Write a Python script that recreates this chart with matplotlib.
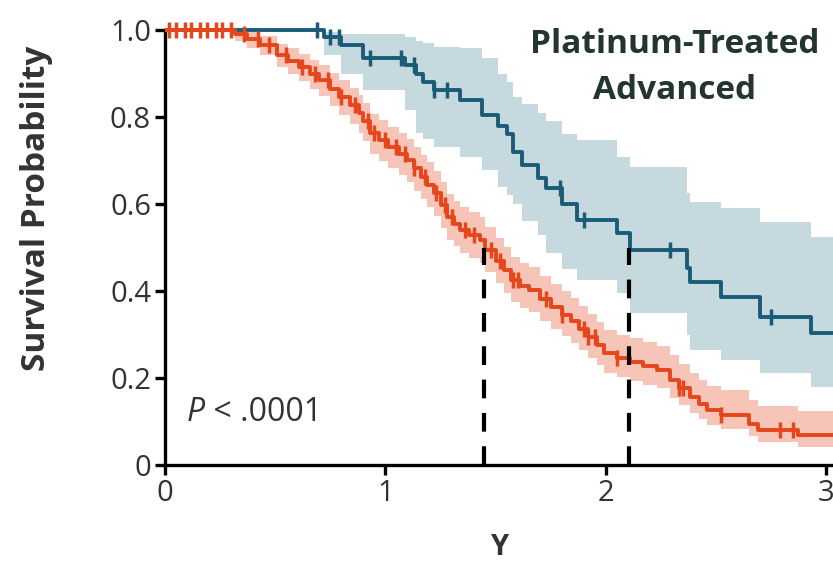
import matplotlib
matplotlib.use("Agg")
import matplotlib.pyplot as plt
import numpy as np

# Kaplan-Meier steps: time, survival, lower / upper CI
blue_t = [0.00, 0.72, 0.80, 0.90, 1.09, 1.14, 1.17, 1.22, 1.34, 1.44, 1.51, 1.55, 1.58, 1.62,
          1.69, 1.73, 1.80, 1.87, 2.05, 2.11, 2.37, 2.38, 2.52, 2.70, 2.93]
blue_s = [1.000, 0.985, 0.965, 0.936, 0.920, 0.900, 0.880, 0.862, 0.840, 0.805, 0.780, 0.760,
          0.720, 0.690, 0.660, 0.637, 0.600, 0.563, 0.533, 0.494, 0.453, 0.420, 0.386, 0.340, 0.303]
blue_lo = [1.000, 0.943, 0.900, 0.862, 0.816, 0.763, 0.750, 0.731, 0.708, 0.678, 0.640, 0.620,
           0.600, 0.560, 0.530, 0.487, 0.450, 0.425, 0.395, 0.349, 0.300, 0.264, 0.241, 0.211, 0.179]
blue_hi = [1.000, 0.995, 0.990, 0.990, 0.985, 0.975, 0.970, 0.962, 0.958, 0.935, 0.900, 0.880,
           0.846, 0.830, 0.810, 0.790, 0.760, 0.747, 0.708, 0.685, 0.625, 0.605, 0.590, 0.559, 0.524]
blue_cens = [0.69, 0.75, 0.79, 0.93, 1.07, 1.13, 1.22, 1.28, 1.79, 1.90, 2.29, 2.75]

red_t = [0.00, 0.32, 0.37, 0.43, 0.51, 0.56, 0.61, 0.66, 0.70, 0.75, 0.79, 0.84, 0.88, 0.90,
         0.93, 0.97, 1.01, 1.06, 1.10, 1.13, 1.16, 1.19, 1.22, 1.25, 1.28, 1.31, 1.34, 1.38,
         1.43, 1.45, 1.50, 1.54, 1.57, 1.61, 1.65, 1.70, 1.75, 1.80, 1.84, 1.88, 1.92, 1.96,
         1.99, 2.05, 2.11, 2.17, 2.23, 2.29, 2.33, 2.38, 2.42, 2.46, 2.52, 2.65, 2.69, 2.87]
red_s = [1.000, 0.990, 0.980, 0.965, 0.943, 0.930, 0.915, 0.900, 0.885, 0.865, 0.846, 0.828,
         0.809, 0.790, 0.763, 0.748, 0.731, 0.716, 0.701, 0.682, 0.662, 0.645, 0.625, 0.598,
         0.570, 0.555, 0.540, 0.528, 0.517, 0.495, 0.470, 0.448, 0.425, 0.412, 0.402, 0.382,
         0.363, 0.346, 0.330, 0.312, 0.294, 0.275, 0.257, 0.246, 0.237, 0.228, 0.218, 0.195,
         0.176, 0.156, 0.140, 0.126, 0.115, 0.095, 0.080, 0.069]
red_lo = [1.000, 0.975, 0.960, 0.942, 0.916, 0.900, 0.883, 0.865, 0.848, 0.826, 0.805, 0.785,
          0.764, 0.744, 0.716, 0.700, 0.683, 0.667, 0.651, 0.631, 0.611, 0.593, 0.573, 0.546,
          0.518, 0.503, 0.488, 0.476, 0.465, 0.443, 0.418, 0.396, 0.374, 0.361, 0.351, 0.332,
          0.313, 0.297, 0.281, 0.264, 0.247, 0.229, 0.212, 0.202, 0.194, 0.185, 0.176, 0.155,
          0.138, 0.119, 0.105, 0.093, 0.083, 0.066, 0.053, 0.041]
red_hi = [1.000, 1.000, 0.996, 0.986, 0.968, 0.958, 0.945, 0.932, 0.920, 0.902, 0.885, 0.868,
          0.851, 0.833, 0.808, 0.794, 0.778, 0.764, 0.750, 0.732, 0.713, 0.696, 0.677, 0.650,
          0.623, 0.608, 0.593, 0.581, 0.570, 0.548, 0.523, 0.501, 0.478, 0.465, 0.455, 0.435,
          0.416, 0.399, 0.383, 0.365, 0.347, 0.328, 0.310, 0.300, 0.292, 0.283, 0.274, 0.252,
          0.232, 0.212, 0.196, 0.182, 0.172, 0.150, 0.135, 0.124]
red_cens = [0.02, 0.05, 0.09, 0.12, 0.16, 0.19, 0.23, 0.26, 0.30, 0.36, 0.42, 0.47, 0.55, 0.62,
            0.68, 0.74, 0.80, 0.86, 0.92, 0.95, 1.00, 1.05, 1.09, 1.13, 1.18, 1.23, 1.27, 1.30,
            1.36, 1.40, 1.48, 1.52, 1.58, 1.60, 1.73, 1.80, 1.90, 1.92, 1.95, 2.05, 2.33, 2.35,
            2.52, 2.79, 2.85]

end_time = 3.05
median_times = [1.445, 2.105]
median_level = 0.5

RED, RED_BAND = "#e5461c", "#f7c4b8"
BLUE, BLUE_BAND = "#1a5c78", "#c5d9df"
TEXT = "#333333"

plt.rcParams['font.family'] = ['Open Sans', 'DejaVu Sans']

fig = plt.figure(figsize=(8.33, 5.62), dpi=100)
ax = fig.add_axes([0.198, 0.1726, 0.802, 0.797])


def km(t, s, lo, hi, cens, color, band):
    t = np.append(t, end_time)
    s = np.append(s, s[-1])
    lo = np.append(lo, lo[-1])
    hi = np.append(hi, hi[-1])
    ax.fill_between(t, lo, hi, step='post', color=band, lw=0, zorder=1)
    ax.step(t, s, where='post', color=color, lw=2.8, zorder=3)
    idx = np.searchsorted(t, cens, side='right') - 1
    ax.plot(cens, s[idx], ls='none', marker='|', ms=12, mew=2.5, color=color, zorder=4,
            clip_on=False)


km(blue_t, blue_s, blue_lo, blue_hi, blue_cens, BLUE, BLUE_BAND)
km(red_t, red_s, red_lo, red_hi, red_cens, RED, RED_BAND)

# medians
ax.vlines(median_times, 0, median_level, colors='black', lw=3, linestyles=(0, (4.5, 3.5)),
          zorder=5)

ax.set_xlim(0, 3.03)
ax.set_ylim(0, 1.03)
for side in ('top', 'right'):
    ax.spines[side].set_visible(False)
ax.spines['left'].set_bounds(0, 1)
for side in ('left', 'bottom'):
    ax.spines[side].set_linewidth(2.4)
ax.set_xticks([0, 1, 2, 3])
ax.set_xticklabels(['0', '1', '2', '3'])
ax.set_yticks([0, 0.2, 0.4, 0.6, 0.8, 1.0])
ax.set_yticklabels(['0', '0.2', '0.4', '0.6', '0.8', '1.0'])
ax.tick_params(width=2.4, length=7, labelsize=21, labelcolor=TEXT, pad=3)

ax.set_ylabel('Survival Probability', fontsize=24, fontweight='bold', color=TEXT)
ax.yaxis.set_label_coords(-0.168, 0.574)
ax.set_xlabel('Y', fontsize=21, fontweight='bold', color=TEXT, labelpad=18)

ax.text(2.31, 0.968, 'Platinum-Treated', ha='center', va='center', fontsize=24,
        fontweight='bold', color='#22352e')
ax.text(2.31, 0.862, 'Advanced', ha='center', va='center', fontsize=24,
        fontweight='bold', color='#22352e')

p = ax.text(0.10, 0.12, 'P', ha='left', va='center', fontsize=23, style='italic',
            color=TEXT)
ax.annotate(' < .0001', xy=(1, 0), xycoords=p, va='bottom', ha='left', fontsize=23,
            color=TEXT)

fig.savefig('out.png', dpi=100)
